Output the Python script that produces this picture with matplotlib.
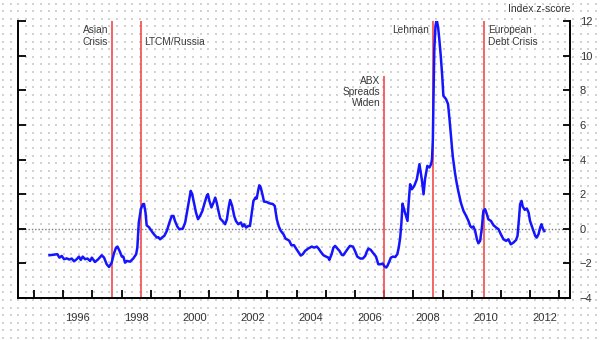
import numpy as np
import matplotlib
matplotlib.use("Agg")
from matplotlib import pyplot as plt

plt.rcParams['font.family'] = ['Liberation Sans', 'DejaVu Sans']

# index z-score (decimal years)
dates = [1995.53, 1995.72, 1995.80, 1995.87, 1995.95, 1996.03, 1996.12, 1996.21, 1996.29, 1996.37,
         1996.46, 1996.54, 1996.60, 1996.67, 1996.75, 1996.83, 1996.92, 1996.98, 1997.09, 1997.20,
         1997.32, 1997.40, 1997.49, 1997.57, 1997.66, 1997.74, 1997.81, 1997.86, 1997.93, 1998.01,
         1998.06, 1998.12, 1998.18, 1998.29, 1998.40, 1998.50, 1998.54, 1998.59, 1998.66, 1998.73,
         1998.77, 1998.82, 1998.86, 1998.95, 1999.03, 1999.11, 1999.21, 1999.26, 1999.32, 1999.41,
         1999.46, 1999.55, 1999.64, 1999.72, 1999.78, 1999.83, 1999.91, 1999.98, 2000.10, 2000.18,
         2000.26, 2000.33, 2000.37, 2000.42, 2000.49, 2000.55, 2000.62, 2000.69, 2000.77, 2000.85,
         2000.92, 2000.96, 2001.01, 2001.08, 2001.15, 2001.21, 2001.26, 2001.32, 2001.38, 2001.46,
         2001.55, 2001.61, 2001.67, 2001.72, 2001.79, 2001.86, 2001.92, 2002.00, 2002.09, 2002.15,
         2002.20, 2002.27, 2002.34, 2002.40, 2002.47, 2002.52, 2002.59, 2002.63, 2002.68, 2002.72,
         2002.77, 2002.84, 2002.88, 2002.97, 2003.06, 2003.18, 2003.25, 2003.32, 2003.39, 2003.46,
         2003.55, 2003.62, 2003.71, 2003.75, 2003.82, 2003.91, 2003.98, 2004.06, 2004.14, 2004.21,
         2004.29, 2004.40, 2004.52, 2004.60, 2004.69, 2004.75, 2004.83, 2004.92, 2005.01, 2005.09,
         2005.12, 2005.20, 2005.26, 2005.32, 2005.38, 2005.47, 2005.55, 2005.60, 2005.70, 2005.78,
         2005.83, 2005.93, 2006.00, 2006.08, 2006.18, 2006.27, 2006.35, 2006.40, 2006.46, 2006.54,
         2006.63, 2006.72, 2006.80, 2006.88, 2006.95, 2007.00, 2007.07, 2007.11, 2007.16, 2007.23,
         2007.30, 2007.38, 2007.45, 2007.50, 2007.55, 2007.59, 2007.63, 2007.68, 2007.75, 2007.80,
         2007.84, 2007.89, 2007.95, 2008.03, 2008.12, 2008.21, 2008.29, 2008.35, 2008.40, 2008.48,
         2008.55, 2008.61, 2008.64, 2008.67, 2008.69, 2008.72, 2008.76, 2008.80, 2008.85, 2008.89,
         2008.94, 2008.99, 2009.03, 2009.12, 2009.19, 2009.24, 2009.29, 2009.35, 2009.43, 2009.49,
         2009.55, 2009.63, 2009.72, 2009.81, 2009.89, 2009.95, 2010.00, 2010.06, 2010.12, 2010.18,
         2010.23, 2010.29, 2010.35, 2010.40, 2010.46, 2010.52, 2010.57, 2010.66, 2010.75, 2010.84,
         2010.92, 2011.00, 2011.09, 2011.18, 2011.26, 2011.34, 2011.43, 2011.52, 2011.57, 2011.62,
         2011.66, 2011.71, 2011.75, 2011.82, 2011.89, 2011.95, 2012.00, 2012.10, 2012.18, 2012.23,
         2012.29, 2012.35, 2012.39, 2012.45, 2012.49]
zscore = [-1.53, -1.49, -1.47, -1.67, -1.57, -1.76, -1.71, -1.78, -1.72, -1.88,
          -1.76, -1.61, -1.80, -1.61, -1.76, -1.72, -1.86, -1.67, -1.92, -1.76,
          -1.53, -1.67, -2.05, -2.21, -1.96, -1.42, -1.09, -1.03, -1.28, -1.61,
          -1.61, -1.96, -1.86, -1.90, -1.72, -1.47, -1.09, 0.36, 1.13, 1.42,
          1.43, 0.94, 0.20, 0.07, -0.14, -0.32, -0.51, -0.49, -0.61, -0.47,
          -0.42, -0.13, 0.36, 0.74, 0.74, 0.45, 0.13, -0.03, 0.01, 0.36,
          1.13, 1.80, 2.19, 2.00, 1.42, 0.94, 0.55, 0.74, 1.03, 1.51,
          1.90, 2.00, 1.61, 1.23, 1.51, 1.80, 1.51, 1.03, 0.59, 0.45,
          0.26, 0.55, 1.23, 1.66, 1.32, 0.74, 0.45, 0.26, 0.36, 0.13,
          0.26, 0.07, 0.16, 0.16, 1.03, 1.61, 1.80, 1.74, 2.19, 2.51,
          2.38, 1.90, 1.57, 1.55, 1.47, 1.43, 1.32, 0.55, 0.13, -0.13,
          -0.32, -0.57, -0.65, -0.70, -0.95, -0.95, -1.14, -1.34, -1.55, -1.47,
          -1.28, -1.14, -1.03, -1.09, -1.03, -1.14, -1.34, -1.53, -1.61, -1.67,
          -1.80, -1.47, -1.09, -0.99, -1.11, -1.28, -1.51, -1.53, -1.28, -1.09,
          -0.99, -1.03, -1.28, -1.61, -1.72, -1.72, -1.57, -1.34, -1.14, -1.22,
          -1.42, -1.61, -2.05, -2.05, -2.01, -2.15, -2.24, -2.15, -1.96, -1.67,
          -1.61, -1.63, -1.47, -1.09, -0.51, 0.30, 1.45, 1.13, 0.74, 0.45,
          1.51, 2.57, 2.28, 2.47, 2.86, 3.73, 2.86, 1.99, 2.86, 3.63,
          3.54, 3.73, 4.02, 5.17, 7.49, 10.38, 11.72, 12.07, 11.63, 10.95,
          9.99, 8.83, 7.68, 7.49, 7.20, 6.33, 5.36, 4.21, 3.20, 2.60,
          2.10, 1.50, 1.03, 0.74, 0.45, 0.16, 0.07, 0.13, -0.13, -0.61,
          -0.84, -0.70, 0.07, 1.03, 1.13, 0.84, 0.55, 0.45, 0.20, 0.07,
          -0.03, -0.32, -0.61, -0.70, -0.61, -0.90, -0.80, -0.65, -0.42, 0.55,
          1.42, 1.61, 1.28, 1.09, 1.17, 0.94, 0.45, -0.03, -0.42, -0.51,
          -0.32, 0.07, 0.26, -0.03, -0.13]

# events marked with red lines
event_names = ['Asian\nCrisis', 'LTCM/Russia', 'ABX\nSpreads\nWiden', 'Lehman', 'European\nDebt Crisis']
event_dates = [1997.66, 1998.66, 2007.00, 2008.67, 2010.43]
event_tops = [12, 12, 8.8, 12, 12]
label_side = ['left', 'right', 'left', 'left', 'right']
label_y = [11.13, 10.78, 7.89, 11.47, 11.13]

year_ticks = list(range(1995, 2014))
year_labels = [str(y) for y in range(1996, 2013, 2)]
y_ticks = list(range(-4, 13, 2))

fig = plt.figure(figsize=(6, 3.4), dpi=100)

# dotted paper background
bg = fig.add_axes([0, 0, 1, 1], zorder=-5)
bg.set_xlim(0, 600)
bg.set_ylim(0, 340)
bg.axis('off')
gx, gy = np.meshgrid(np.arange(3, 600, 7.6), np.arange(2, 340, 7.6))
bg.scatter(gx.ravel(), gy.ravel(), s=0.65, marker='s', color='#d2d2d2', linewidths=0)

ax = fig.add_axes([18/600, 42/340, 552/600, 277/340])
ax.patch.set_alpha(0)
ax.set_xlim(1994.45, 2013.37)
ax.set_ylim(-4, 12)

ax.axhline(0, color='#7a7a7a', lw=1.0, ls=(0, (1, 1.4)), zorder=1)

for d, top in zip(event_dates, event_tops):
    ax.vlines(d, -4, top, color='#f44a4a', lw=1.2, zorder=2)

ax.plot(dates, zscore, color='#1414ff', lw=1.8, zorder=3, solid_joinstyle='round')

for name, d, side, ly in zip(event_names, event_dates, label_side, label_y):
    off = -2.5 if side == 'left' else 2.5
    ha = 'right' if side == 'left' else 'left'
    ax.annotate(name, xy=(d, ly), xytext=(off, 0), textcoords='offset points',
                ha=ha, va='center', fontsize=7.3, color='#3a3a3a', linespacing=1.15,
                multialignment=ha)

for s in ['left', 'right', 'bottom']:
    ax.spines[s].set_linewidth(1.4)
    ax.spines[s].set_color('black')
ax.spines['top'].set_visible(False)

ax.set_yticks(y_ticks)
ax.tick_params(axis='y', which='major', direction='in', left=True, right=True,
               labelleft=False, labelright=True, length=6, width=1.3,
               labelsize=8, labelcolor='#333333', pad=7)
for t in ax.yaxis.get_major_ticks():
    t.tick2line.set_markersize(5)
    if t.get_loc() == 12:
        t.tick1line.set_markersize(13)
        t.tick2line.set_markersize(12.5)

ax.set_xticks(year_ticks)
ax.set_xticklabels([])
ax.set_xticks([int(y) + 0.5 for y in year_labels], minor=True)
ax.set_xticklabels(year_labels, minor=True)
ax.tick_params(axis='x', which='major', direction='in', length=5.5, width=1.3)
ax.tick_params(axis='x', which='minor', length=0, labelsize=8, labelcolor='#333333', pad=11)

fig.text(570/600, 1 - 9/340, 'Index z-score', ha='right', va='center',
         fontsize=7.5, color='#333333')

fig.savefig('out.png', dpi=100)
